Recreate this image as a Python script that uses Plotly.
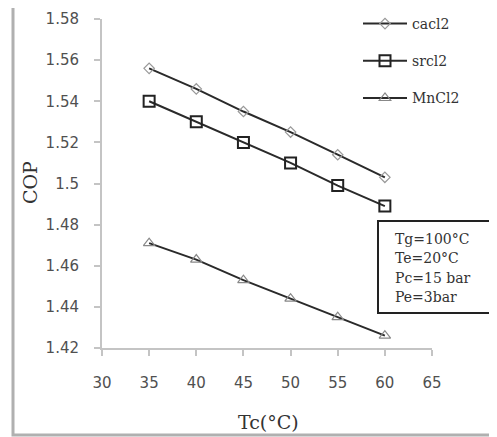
import plotly.graph_objects as go

tc = [35, 40, 45, 50, 55, 60]
cacl2 = [1.556, 1.546, 1.535, 1.525, 1.514, 1.503]
srcl2 = [1.540, 1.530, 1.520, 1.510, 1.499, 1.489]
mncl2 = [1.471, 1.463, 1.453, 1.444, 1.435, 1.426]
y_ticks = [1.42, 1.44, 1.46, 1.48, 1.5, 1.52, 1.54, 1.56, 1.58]
x_ticks = [30, 35, 40, 45, 50, 55, 60, 65]
info_lines = ["Tg=100°C", "Te=20°C", "Pc=15 bar", "Pe=3bar"]

# page offset (browser body margin)
OFF = 8
W, H = 497 - OFF, 437 - OFF
# plot area in page pixels: x 102..432, y 19..348
L, T = 102 - OFF, 19 - OFF
R = W - (432 - OFF)
B = H - (348 - OFF)
pw, ph = W - L - R, H - T - B

def px(x):
    return (x - OFF - L) / pw

def py(y):
    return (H - B - (y - OFF)) / ph

serif = "DejaVu Serif"
line_col = "#2a2a2a"
text_col = "#333333"

fig = go.Figure()
fig.add_trace(go.Scatter(x=tc, y=cacl2, name="cacl2", legendgroup="a", mode="lines+markers",
                         line=dict(color=line_col, width=2),
                         marker=dict(symbol="diamond-open", size=8, color="#999999", line=dict(width=1.2))))
fig.add_trace(go.Scatter(x=tc, y=srcl2, name="srcl2", legendgroup="b", mode="lines+markers",
                         line=dict(color=line_col, width=2),
                         marker=dict(symbol="square-open", size=11, color="#222222", line=dict(width=2))))
fig.add_trace(go.Scatter(x=tc, y=mncl2, name="MnCl2", legendgroup="c", mode="lines+markers",
                         line=dict(color=line_col, width=2),
                         marker=dict(symbol="triangle-up-open", size=10, color="#888888", line=dict(width=1.2))))

axis_common = dict(showgrid=False, zeroline=False, showline=True, linecolor="#c4c4c4", linewidth=2,
                   ticks="outside", ticklen=6, tickcolor="#c4c4c4", tickwidth=1.5, automargin=False,
                   tickfont=dict(family="DejaVu Sans", size=15, color="#505050"))

fig.update_layout(
    width=W, height=H,
    margin=dict(l=L, r=R, t=T, b=B, autoexpand=False),
    plot_bgcolor="white", paper_bgcolor="white",
    xaxis=dict(range=[30, 65], tickvals=x_ticks, ticklabelstandoff=14, **axis_common),
    yaxis=dict(range=[1.42, 1.58], tickvals=y_ticks, tickformat="~g", ticklabelstandoff=12, **axis_common),
    showlegend=True,
    legend=dict(x=px(358), y=py(8), xanchor="left", yanchor="top",
                font=dict(family=serif, size=14, color=text_col),
                bgcolor="rgba(0,0,0,0)", tracegroupgap=16, itemwidth=44),
)

fig.add_annotation(xref="paper", yref="paper", x=px(268), y=py(422), xanchor="center", yanchor="middle",
                   text="Tc(°C)", showarrow=False, font=dict(family=serif, size=19, color=text_col))
fig.add_annotation(xref="paper", yref="paper", x=px(30), y=py(183), xanchor="center", yanchor="middle",
                   text="COP", textangle=-90,
                   showarrow=False, font=dict(family=serif, size=19, color=text_col))

# info box
fig.add_shape(type="rect", xref="paper", yref="paper",
              x0=px(378), x1=px(490), y0=py(313), y1=py(221),
              line=dict(color="#222222", width=2), fillcolor="white")
info_y = [239, 258, 278, 297]
for txt, yy in zip(info_lines, info_y):
    fig.add_annotation(xref="paper", yref="paper", x=px(393), y=py(yy), xanchor="left", yanchor="middle",
                       text=txt, showarrow=False, font=dict(family=serif, size=14, color=text_col))

fig.add_shape(type="rect", xref="paper", yref="paper",
              x0=px(13), x1=px(505), y0=py(435), y1=py(5),
              line=dict(color="#b0b0b0", width=3))

fig.write_html("out.html")
